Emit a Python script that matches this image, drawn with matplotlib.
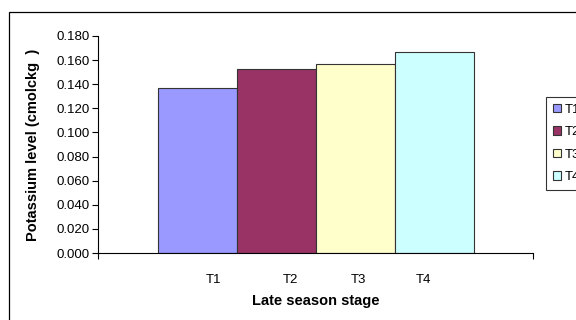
import matplotlib
matplotlib.use("Agg")
import matplotlib.pyplot as plt
from matplotlib.patches import Rectangle

plt.rcParams['font.family'] = ['Liberation Sans', 'DejaVu Sans']

series = ['T1', 'T2', 'T3', 'T4']
values = [0.137, 0.153, 0.157, 0.167]
colors = ['#9999FF', '#993366', '#FFFFCC', '#CCFFFF']
yticks = [0.0, 0.02, 0.04, 0.06, 0.08, 0.10, 0.12, 0.14, 0.16, 0.18]

fig = plt.figure(figsize=(5.76, 3.2), dpi=100)
W, H = 576.0, 320.0

# outer chart border
fig.patches.append(Rectangle((9 / W, -0.1), 1.2, 1 - 12 / H + 0.1, transform=fig.transFigure,
                             fill=False, edgecolor='black', linewidth=0.9))

ax = fig.add_axes([98 / W, 1 - 253 / H, 435 / W, 217 / H])

# one category, four series side by side
width = 79
centers = [99, 178, 257, 336]
for i in range(len(series)):
    ax.bar(centers[i], values[i], width=width, color=colors[i], edgecolor='#333333',
           linewidth=0.8, label=series[i])

ax.set_xlim(0, 435)
ax.set_ylim(0, 0.18)
ax.set_yticks(yticks)
ax.set_yticklabels(['%.3f' % v for v in yticks], fontsize=9.5)
ax.tick_params(axis='y', direction='out', length=4, width=0.8, pad=2)

ax.set_xticks([0, 435])
ax.set_xticklabels(['', ''])
ax.tick_params(axis='x', which='major', direction='out', length=4, width=0.8)
ax.set_xticks([115, 192, 260, 325], minor=True)
ax.set_xticklabels(series, minor=True, fontsize=9.5)
ax.tick_params(axis='x', which='minor', length=0, pad=15)

for s in ['top', 'right']:
    ax.spines[s].set_visible(False)
for s in ['left', 'bottom']:
    ax.spines[s].set_linewidth(0.8)

ax.set_ylabel('Potassium level (cmolckg  )', fontsize=10.5, fontweight='bold')
ax.yaxis.set_label_coords((33 - 98) / 435.0, 0.5)
ax.set_xlabel('Late season stage', fontsize=10.5, fontweight='bold')
ax.xaxis.set_label_coords(0.5, -(301 - 253) / 217.0)
ax.xaxis.label.set_va('center')
ax.yaxis.label.set_va('center')

leg = ax.legend(loc='upper left', bbox_to_anchor=(546 / W, 1 - 97 / H), bbox_transform=fig.transFigure,
                fontsize=9.5, frameon=True, fancybox=False, edgecolor='black', handlelength=0.6,
                handleheight=0.6, handletextpad=0.3, labelspacing=0.8, borderpad=0.5,
                borderaxespad=0)
leg.get_frame().set_linewidth(0.8)

fig.savefig('out.png', dpi=100)
